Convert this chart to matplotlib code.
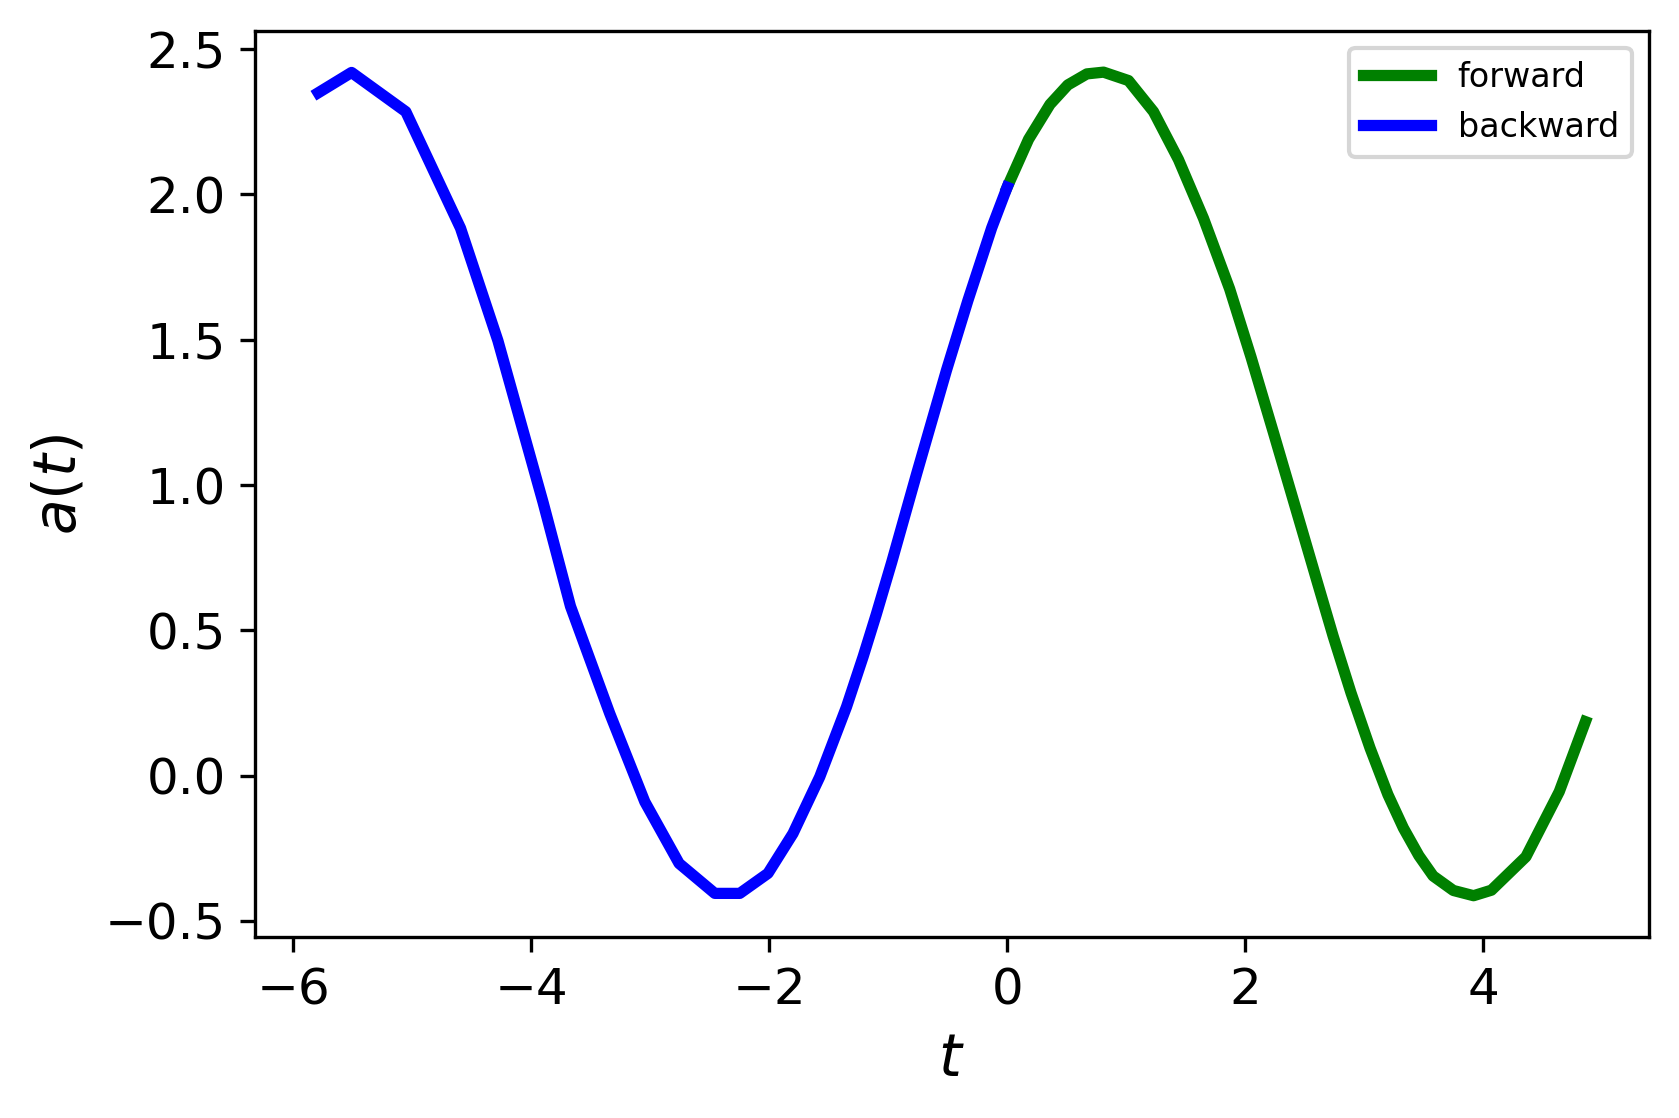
import numpy as np
import matplotlib
matplotlib.use('Agg')
import matplotlib.pyplot as plt

# values
t_forward = [0.00, 0.18, 0.36, 0.51, 0.67, 0.81, 1.02, 1.23, 1.44, 1.65, 1.87,
             2.05, 2.24, 2.47, 2.60, 2.74, 2.89, 3.05, 3.20, 3.33, 3.46, 3.58,
             3.75, 3.92, 4.07, 4.36, 4.64, 4.86]
a_forward = [2.025, 2.19, 2.31, 2.377, 2.415, 2.421, 2.392, 2.285, 2.12, 1.918, 1.675,
             1.44, 1.178, 0.857, 0.675, 0.48, 0.285, 0.095, -0.065, -0.18, -0.275, -0.345,
             -0.395, -0.413, -0.394, -0.279, -0.055, 0.186]

t_backward = [0.00, -0.13, -0.33, -0.51, -0.76, -0.97, -1.10, -1.21, -1.35,
              -1.575, -1.80, -2.01, -2.247, -2.457, -2.757, -3.045, -3.34, -3.67,
              -3.90, -4.28, -4.594, -5.054, -5.51, -5.79]
a_backward = [2.025, 1.885, 1.635, 1.395, 1.040, 0.735, 0.555, 0.41, 0.237,
              -0.004, -0.199, -0.336, -0.405, -0.405, -0.302, -0.090, 0.214, 0.583,
              0.94, 1.497, 1.884, 2.285, 2.42, 2.35]

fig = plt.figure(figsize=(1679 / 300, 1118 / 300), dpi=300)
ax = fig.add_axes([0.1518, 0.162, 0.982 - 0.1518, 0.9723 - 0.162])

ax.plot(t_forward, a_forward, color='green', lw=2.7, label='forward')
ax.plot(t_backward, a_backward, color='blue', lw=2.7, label='backward')

ax.set_xlabel('$t$', fontsize=14)
ax.set_ylabel('$a(t)$', fontsize=14)
ax.tick_params(labelsize=12)
ax.set_xticks([-6, -4, -2, 0, 2, 4])
ax.set_yticks([-0.5, 0.0, 0.5, 1.0, 1.5, 2.0, 2.5])
ax.legend(loc='upper right', fontsize=8, handlelength=2.05)

fig.savefig('out.png', dpi=300)
